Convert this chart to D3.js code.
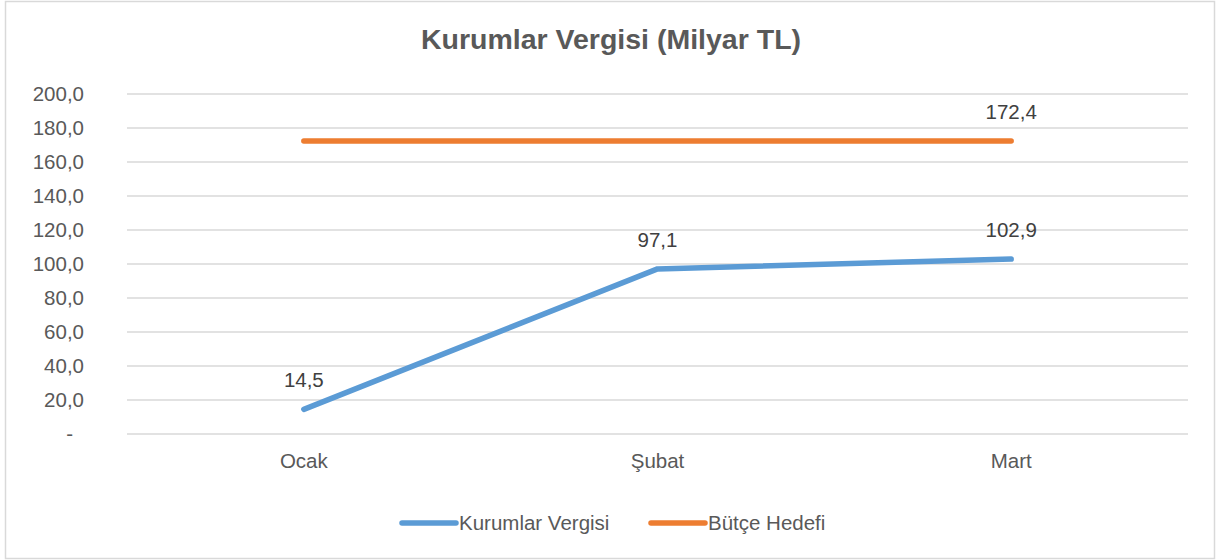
<!DOCTYPE html>
<html>
<head>
<meta charset="utf-8">
<script src="https://cdn.jsdelivr.net/npm/d3@7"></script>
<style>
  body { margin: 0; background: #fff; }
  svg { display: block; font-family: "Liberation Sans", Arial, sans-serif; }
</style>
</head>
<body>
<div id="chart"></div>
<script>
const months = ['Ocak', 'Şubat', 'Mart'];
const kurumlarVergisi = [14.5, 97.1, 102.9];
const butceHedefi = [172.4, 172.4, 172.4];
const yTicks = [0, 20, 40, 60, 80, 100, 120, 140, 160, 180, 200];

const W = 1216;
const H = 560;
const margin = { t: 94, r: 28, b: 126, l: 127 };
const fontSize = '20.5px';

const svg = d3.select('#chart')
  .append('svg')
  .attr('width', W)
  .attr('height', H);

// chart area border
svg.append('rect')
  .attr('x', 5.5)
  .attr('y', 1.5)
  .attr('width', W - 7)
  .attr('height', H - 3)
  .attr('fill', '#fff')
  .attr('stroke', '#d9d9d9')
  .attr('stroke-width', 1.5);

svg.append('text')
  .attr('x', 611)
  .attr('y', 49)
  .attr('text-anchor', 'middle')
  .style('font-size', '28.5px')
  .style('font-weight', 'bold')
  .style('fill', '#595959')
  .text('Kurumlar Vergisi (Milyar TL)');

const x = d3.scaleBand()
  .domain(months)
  .range([margin.l, W - margin.r]);

const y = d3.scaleLinear()
  .domain([0, 200])
  .range([H - margin.b, margin.t]);

const fmt = d => d === 0 ? '-' : d3.format('.1f')(d).replace('.', ',');

// gridlines
svg.append('g')
  .selectAll('line')
  .data(yTicks)
  .join('line')
  .attr('x1', margin.l)
  .attr('x2', W - margin.r)
  .attr('y1', d => y(d))
  .attr('y2', d => y(d))
  .attr('stroke', '#d9d9d9')
  .attr('stroke-width', 1.5);

// y labels
svg.append('g')
  .selectAll('text')
  .data(yTicks)
  .join('text')
  .attr('x', d => d === 0 ? 73 : 84)
  .attr('y', d => y(d))
  .attr('dy', '0.35em')
  .attr('text-anchor', 'end')
  .style('font-size', fontSize)
  .style('fill', '#595959')
  .text(fmt);

// x labels
svg.append('g')
  .selectAll('text')
  .data(months)
  .join('text')
  .attr('x', d => x(d) + x.bandwidth() / 2)
  .attr('y', 468)
  .attr('text-anchor', 'middle')
  .style('font-size', fontSize)
  .style('fill', '#595959')
  .text(d => d);

const line = d3.line()
  .x((d, i) => x(months[i]) + x.bandwidth() / 2)
  .y(d => y(d));

const series = [
  { name: 'Kurumlar Vergisi', values: kurumlarVergisi, color: '#5b9bd5', labels: [0, 1, 2] },
  { name: 'Bütçe Hedefi', values: butceHedefi, color: '#ed7d31', labels: [2] }
];

series.forEach(s => {
  svg.append('path')
    .datum(s.values)
    .attr('d', line)
    .attr('fill', 'none')
    .attr('stroke', s.color)
    .attr('stroke-width', 5.5)
    .attr('stroke-linecap', 'round')
    .attr('stroke-linejoin', 'round');

  svg.append('g')
    .selectAll('text')
    .data(s.labels)
    .join('text')
    .attr('x', i => x(months[i]) + x.bandwidth() / 2)
    .attr('y', i => y(s.values[i]) - 22)
    .attr('text-anchor', 'middle')
    .style('font-size', fontSize)
    .style('fill', '#404040')
    .text(i => fmt(s.values[i]));
});

// legend
const legendX = [400, 649];
const legend = svg.append('g')
  .selectAll('g')
  .data(series)
  .join('g')
  .attr('transform', (d, i) => `translate(${legendX[i]}, 523)`);

legend.append('line')
  .attr('x1', 2)
  .attr('x2', 56)
  .attr('stroke', d => d.color)
  .attr('stroke-width', 5.5)
  .attr('stroke-linecap', 'round');

legend.append('text')
  .attr('x', 59)
  .attr('dy', '0.35em')
  .style('font-size', fontSize)
  .style('fill', '#595959')
  .text(d => d.name);
</script>
</body>
</html>
